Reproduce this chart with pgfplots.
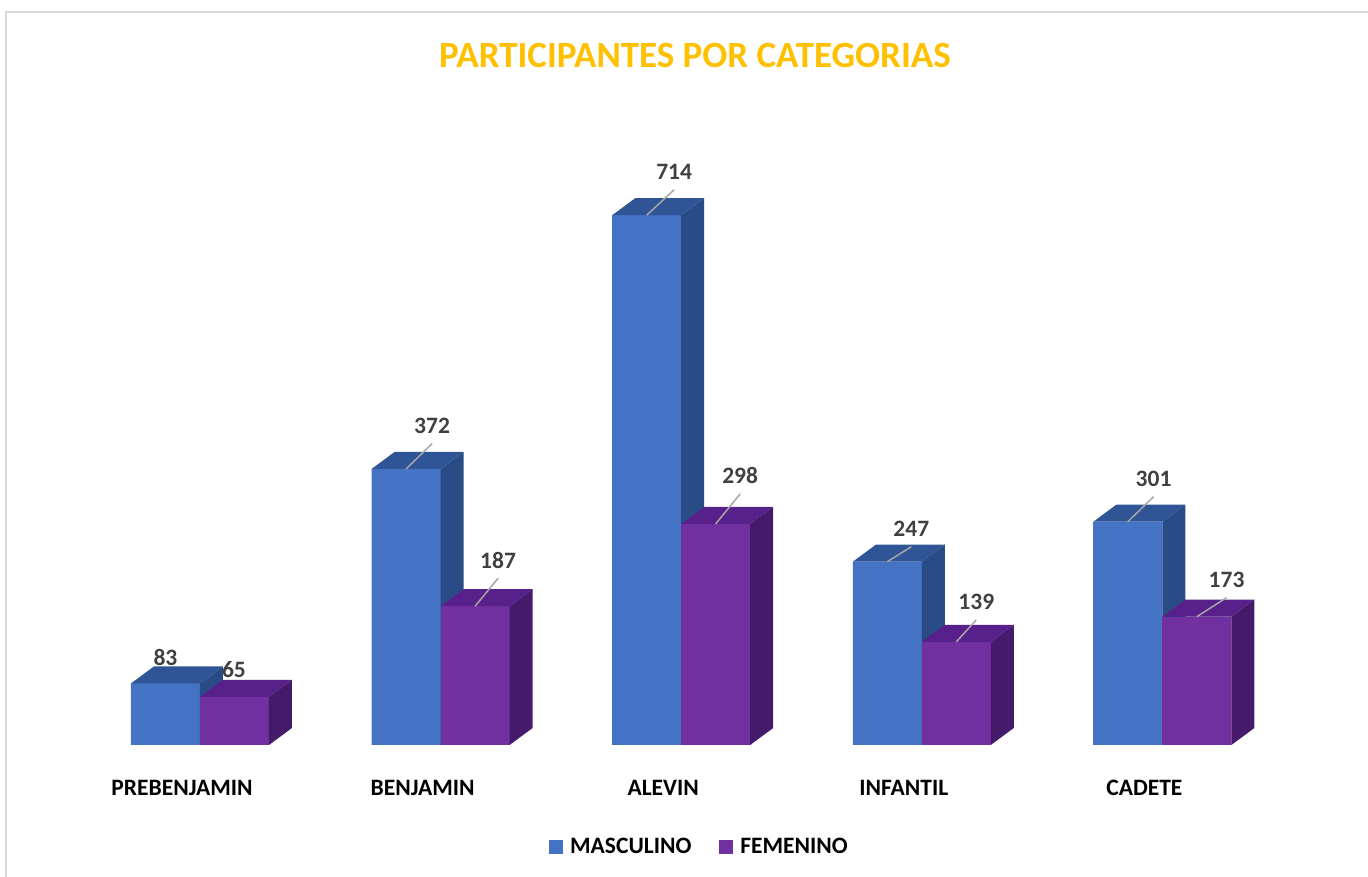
\documentclass[border=0pt]{standalone}
\usepackage{fontspec}
\setmainfont{Carlito}
\usepackage{pgfplots}
\pgfplotsset{compat=1.18}
\usepackage{pgfplotstable}

\definecolor{mascF}{HTML}{4472C4}
\definecolor{mascT}{HTML}{2F5597}
\definecolor{mascS}{HTML}{2A4C86}
\definecolor{femF}{HTML}{7030A0}
\definecolor{femT}{HTML}{58208A}
\definecolor{femS}{HTML}{461A6B}
\definecolor{titulo}{HTML}{FFC000}
\definecolor{etiq}{HTML}{404040}
\definecolor{lider}{HTML}{A6A6A6}
\definecolor{marco}{HTML}{D9D9D9}

\newcommand\lbl{\fontsize{23.5}{28}\selectfont\bfseries}
\newcommand\tit{\fontsize{37}{44}\selectfont\bfseries}

% 1pt = 1 pixel of the reference, one unit of y = 0.742pt
% front, top and side face of a bar, drawn as a mark at the category centre
% #5 = left edge of the front face, #6 = its right edge
\newcommand\caja[6]{%
  \pgfdeclareplotmark{#1}{%
    \pgfpathmoveto{\pgfqpoint{#5pt}{0pt}}%
    \pgfpathlineto{\pgfqpoint{#6pt}{0pt}}%
    \pgfpathlineto{\pgfpoint{#6pt}{-\hv*0.742pt}}%
    \pgfpathlineto{\pgfpoint{#5pt}{-\hv*0.742pt}}%
    \pgfpathclose
    \pgfsetfillcolor{#2}\pgfusepathqfill
    \pgfpathmoveto{\pgfqpoint{#5pt}{0pt}}%
    \pgfpathlineto{\pgfqpoint{#6pt}{0pt}}%
    \pgfpathlineto{\pgfpoint{#6pt+23pt}{17pt}}%
    \pgfpathlineto{\pgfpoint{#5pt+23pt}{17pt}}%
    \pgfpathclose
    \pgfsetfillcolor{#3}\pgfusepathqfill
    \pgfpathmoveto{\pgfqpoint{#6pt}{0pt}}%
    \pgfpathlineto{\pgfpoint{#6pt+23pt}{17pt}}%
    \pgfpathlineto{\pgfpoint{#6pt+23pt}{17pt-\hv*0.742pt}}%
    \pgfpathlineto{\pgfpoint{#6pt}{-\hv*0.742pt}}%
    \pgfpathclose
    \pgfsetfillcolor{#4}\pgfusepathqfill}}
\caja{cajam}{mascF}{mascT}{mascS}{-69}{0}
\caja{cajaf}{femF}{femT}{femS}{0}{69}
% leader line from the bar top towards its label
\pgfdeclareplotmark{lider}{%
  \pgfpathmoveto{\pgfqpoint{0pt}{0pt}}%
  \pgfpathlineto{\pgfpoint{\ld*\lx pt}{\ld*(\ly-18)*1pt}}%
  \pgfsetlinewidth{1.5pt}\pgfsetstrokecolor{lider}\pgfusepathqstroke}

% lx, ly: label offset from the bar top (pt), ld: leader line on/off
\pgfplotstableread{
x m   lxm   lym  ldm f   lxf  lyf ldf
0 83  0     26   0   65  -0.5 27  0
1 372 26    43.3 1   187 23   46  1
2 714 27.5  43.5 1   298 24.5 48  1
3 247 24    33   1   139 20   40  1
4 301 25.7  43   1   173 29.7 37  1
}\datos

\begin{document}
\begin{tikzpicture}
\useasboundingbox (0pt,0pt) rectangle (1368pt,877pt);
\draw[marco, line width=2pt] (6pt,-20pt) -- (6pt,865pt) -- (1400pt,865pt);
\node[font=\tit, text=titulo] at (695pt,821pt) {PARTICIPANTES POR CATEGORIAS};
\begin{axis}[
    at={(7.5pt,132pt)}, anchor=south west,
    x=240.6pt, y=0.742pt,
    xmin=-0.8, xmax=4.8, ymin=0, ymax=950,
    enlargelimits=false, clip=false,
    axis line style={draw=none}, tick style={draw=none},
    ytick=\empty,
    xtick={0,...,4},
    xticklabels={PREBENJAMIN,BENJAMIN,ALEVIN,INFANTIL,CADETE},
    xticklabel style={anchor=base, xshift=-18pt, yshift=-51pt, font=\lbl, text=black},
    /pgf/number format/assume math mode=true,
    legend columns=2,
    legend style={at={(axis description cs:0.5136,-0.1447)}, anchor=center,
        draw=none, fill=none, font=\lbl, text=black, column sep=5pt,
        /tikz/every even column/.append style={column sep=26pt}},
    legend image code/.code={\fill[#1] (0pt,-7pt) rectangle (14pt,7pt);},
]
\addplot[ybar, bar width=69pt, bar shift=-34.5pt, fill=mascF, draw=none,
    mark=cajam,
    visualization depends on={\thisrow{m} \as \hv}]
    table[x=x, y=m] {\datos};
\addlegendentry{MASCULINO}
\addplot[ybar, bar width=69pt, bar shift=34.5pt, fill=femF, draw=none,
    mark=cajaf,
    visualization depends on={\thisrow{f} \as \hv}]
    table[x=x, y=f] {\datos};
\addlegendentry{FEMENINO}
% value labels and their leader lines
\addplot[forget plot, only marks, mark=lider,
    visualization depends on={\thisrow{lxm} \as \lx},
    visualization depends on={\thisrow{lym} \as \ly},
    visualization depends on={\thisrow{ldm} \as \ld},
    nodes near coords,
    every node near coord/.append style={anchor=center, font=\lbl, text=etiq,
        xshift=\lx pt, yshift=\ly pt}]
    table[x expr=\thisrow{x}-0.1434, y=m] {\datos};
\addplot[forget plot, only marks, mark=lider,
    visualization depends on={\thisrow{lxf} \as \lx},
    visualization depends on={\thisrow{lyf} \as \ly},
    visualization depends on={\thisrow{ldf} \as \ld},
    nodes near coords,
    every node near coord/.append style={anchor=center, font=\lbl, text=etiq,
        xshift=\lx pt, yshift=\ly pt}]
    table[x expr=\thisrow{x}+0.1434, y=f] {\datos};
\end{axis}
\end{tikzpicture}
\end{document}
